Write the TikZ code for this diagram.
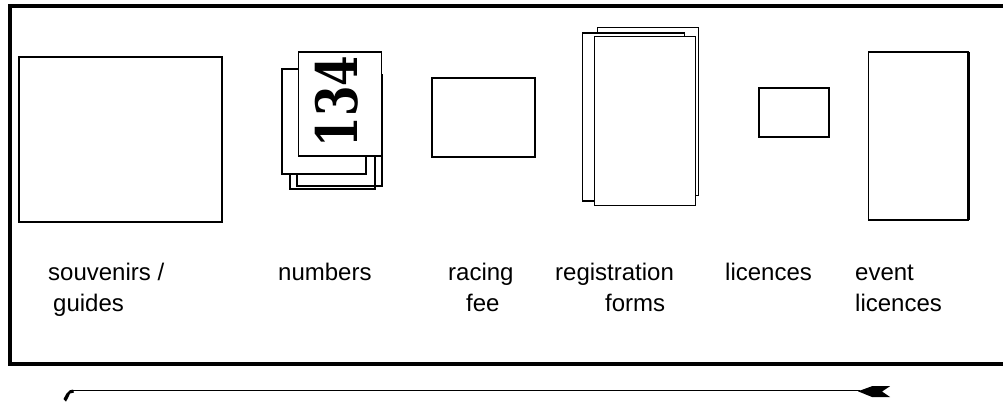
\documentclass[tikz,border=0pt]{standalone}
\usepackage{fontspec}
\setmainfont{Liberation Sans}
\newfontfamily\stampfont{DejaVu Serif}
\begin{document}
\begin{tikzpicture}[x=1pt,y=-1pt,
  box/.style={draw=black,line width=1.2pt,fill=white,inner sep=0pt,outer sep=0pt,rectangle},
  ghost/.style={draw=black,line width=1.2pt,inner sep=0pt,outer sep=0pt,rectangle},
  lbl/.style={anchor=base west,inner sep=0pt,align=left,font=\fontsize{24}{31}\selectfont}]
\useasboundingbox (0,0) rectangle (1003,404);
% frame
\draw[line width=4pt,line join=miter] (1003,6) -- (10,6) -- (10,363.5) -- (1003,363.5);
% souvenirs / guides
\node[box,minimum width=203pt,minimum height=165pt] (souv) at (120.5,139.5) {};
% numbers stack
\node[ghost,minimum width=85pt,minimum height=109pt] (num3) at (332.5,134.5) {};
\node[ghost,minimum width=85pt,minimum height=111pt] (num4) at (339.5,130.5) {};
\node[box,minimum width=84pt,minimum height=105pt] (num2) at (324,121.5) {};
\node[box,minimum width=83pt,minimum height=104pt] (num1) at (340,104) {};
\node[rotate=90,inner sep=0pt,font=\stampfont\bfseries\fontsize{57}{57}\selectfont] (n134) at (337,101.5) {\scalebox{0.77}[1]{134}};
% racing fee
\node[box,minimum width=103pt,minimum height=79pt] (fee) at (483.5,117.5) {};
% registration forms
\node[box,minimum width=101.5pt,minimum height=168.5pt] (reg3) at (648,111.5) {};
\node[box,minimum width=101.5pt,minimum height=168pt] (reg2) at (633.5,117) {};
\node[box,minimum width=101.5pt,minimum height=168.5pt] (reg1) at (645,121) {};
% licences
\node[box,minimum width=70pt,minimum height=49pt] (lic) at (794,112.5) {};
% event licences
\node[box,minimum width=99.5pt,minimum height=168pt] (ev) at (918.5,136) {};
\draw[line width=3pt] (ev.north east) -- (ev.south east);
% labels (multi-line nodes: base = last line)
\node[lbl] (t1) at (48,311) {souvenirs /\\\hspace*{5pt}guides};
\node[lbl] (t2) at (278,280) {numbers};
\node[lbl] (t3) at (448,311) {racing\\\hspace*{18pt}fee};
\node[lbl] (t4) at (555,311) {registration\\\hspace*{50pt}forms};
\node[lbl] (t5) at (725,280) {licences};
\node[lbl] (t6) at (855,311) {event\\licences};
% arrow
\coordinate (aL) at (73,390.8);
\coordinate (aR) at (860,390.8);
\draw[line width=1pt] (aL) -- (aR);
\fill (aL) ++(0,-1.2) -- (74,392.5) -- (70,393.5) -- (68,398) -- (66,401.5) -- (63.5,399) -- (66.5,393.5) -- (70,390.2) -- cycle;
\fill (aR) ++(-2,0.5) -- (872,386.2) -- (890,386.2) -- (882,391.5) -- (890,397) -- (872,397) -- cycle;
\end{tikzpicture}
\end{document}
